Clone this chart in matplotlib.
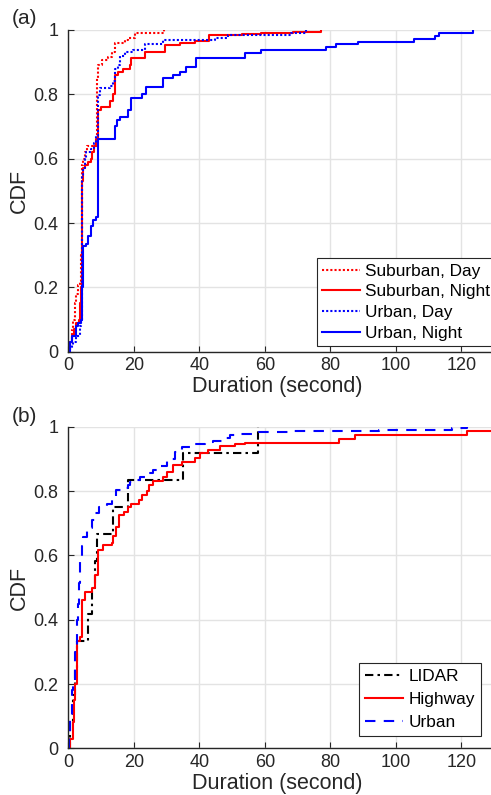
import numpy as np
import matplotlib
matplotlib.use('Agg')
import matplotlib.pyplot as plt
from matplotlib.ticker import FuncFormatter

plt.rcParams['font.family'] = ['Liberation Sans', 'DejaVu Sans']

# (a) duracion vs CDF, pasos
sub_day_x = [0, 0.5, 1.0, 1.5, 2.0, 2.5, 3.0, 3.6, 4.0, 4.1, 4.3, 4.6, 5.1, 5.6, 8.7, 8.9, 9.1,
             10.2, 12.2, 13.2, 14.2, 17.3, 18.3, 20.3, 29.3]
sub_day_y = [0, 0.03, 0.067, 0.10, 0.15, 0.18, 0.207, 0.22, 0.30, 0.45, 0.58, 0.60, 0.62, 0.64,
             0.75, 0.85, 0.891, 0.907, 0.917, 0.93, 0.959, 0.97, 0.975, 0.99, 1.0]

sub_night_x = [0, 0.3, 0.6, 1.2, 1.8, 2.5, 3.2, 3.6, 4.0, 4.2, 4.5, 5.0, 6.0, 6.8, 7.2, 8.0, 8.6,
               9.0, 9.1, 10.0, 12.7, 13.7, 14.2, 15.2, 16.7, 18.8, 19.3, 23.5, 29.5, 34.0, 38.6,
               43.0, 53.0, 59.0, 68.6, 77.3]
sub_night_y = [0, 0.02, 0.03, 0.05, 0.07, 0.09, 0.10, 0.15, 0.20, 0.53, 0.57, 0.58, 0.59, 0.60,
               0.62, 0.64, 0.66, 0.70, 0.75, 0.76, 0.78, 0.80, 0.86, 0.87, 0.88, 0.89, 0.912,
               0.933, 0.953, 0.96, 0.965, 0.984, 0.987, 0.99, 0.995, 1.0]

urb_day_x = [0, 0.5, 1.0, 1.5, 2.5, 3.5, 4.0, 4.1, 4.2, 4.5, 5.0, 5.5, 7.0, 8.0, 8.5, 9.0, 9.1,
             9.7, 12.7, 13.8, 14.2, 15.2, 15.8, 17.3, 19.8, 23.4, 28.9, 44.7, 48.7, 68.0, 72.7]
urb_day_y = [0, 0.01, 0.02, 0.03, 0.05, 0.08, 0.10, 0.20, 0.55, 0.57, 0.60, 0.62, 0.63, 0.65,
             0.67, 0.69, 0.798, 0.82, 0.825, 0.84, 0.88, 0.89, 0.92, 0.93, 0.938, 0.956, 0.969,
             0.975, 0.983, 0.99, 1.0]

urb_night_x = [0, 0.5, 1.0, 2.2, 3.0, 4.0, 4.3, 4.5, 5.5, 6.0, 6.8, 7.6, 8.4, 9.0, 9.1, 14.2,
               15.0, 15.8, 18.2, 19.1, 22.4, 23.8, 29.0, 32.0, 34.0, 35.9, 38.9, 53.9, 59.0,
               78.8, 81.8, 88.6, 105.7, 112.0, 113.1, 123.7]
urb_night_y = [0, 0.03, 0.05, 0.08, 0.09, 0.10, 0.20, 0.33, 0.335, 0.36, 0.39, 0.41, 0.42, 0.43,
               0.66, 0.70, 0.72, 0.73, 0.75, 0.79, 0.80, 0.824, 0.852, 0.86, 0.87, 0.886, 0.912,
               0.929, 0.938, 0.948, 0.955, 0.964, 0.972, 0.981, 0.99, 1.0]

# (b)
lidar_x = [0, 0.5, 1.5, 2.0, 2.6, 6.1, 7.1, 8.2, 8.7, 13.7, 18.3, 35.0, 57.9]
lidar_y = [0, 0.083, 0.167, 0.25, 0.333, 0.417, 0.5, 0.583, 0.667, 0.75, 0.833, 0.917, 1.0]

highway_x = [0, 0.5, 1.3, 1.6, 2.0, 2.6, 3.5, 4.1, 5.1, 7.1, 8.1, 9.1, 10.7, 13.2, 13.7, 14.7,
             15.5, 17.0, 18.3, 19.3, 21.7, 22.4, 23.9, 24.6, 26.0, 28.8, 30.0, 32.0, 34.6, 38.6,
             40.1, 42.7, 46.2, 50.8, 53.9, 82.8, 87.7, 121.8, 140.0]
highway_y = [0, 0.03, 0.083, 0.15, 0.20, 0.333, 0.345, 0.461, 0.487, 0.50, 0.539, 0.617, 0.632,
             0.64, 0.66, 0.689, 0.725, 0.735, 0.751, 0.76, 0.772, 0.787, 0.80, 0.818, 0.831,
             0.845, 0.86, 0.881, 0.891, 0.902, 0.917, 0.929, 0.94, 0.945, 0.951, 0.962, 0.974,
             0.987, 1.0]

urban_x = [0, 0.3, 0.5, 1.0, 1.3, 2.0, 2.7, 3.0, 3.3, 3.6, 4.1, 4.6, 5.8, 7.1, 8.1, 9.4, 11.7,
           13.2, 14.5, 16.8, 18.1, 18.8, 19.8, 21.9, 23.9, 26.0, 28.0, 30.0, 31.0, 32.5, 34.6,
           37.6, 41.7, 44.2, 46.8, 49.3, 51.3, 57.9, 67.6, 95.0, 117.2, 121.8]
urban_y = [0, 0.05, 0.10, 0.18, 0.20, 0.30, 0.40, 0.45, 0.513, 0.585, 0.629, 0.658, 0.684, 0.71,
           0.733, 0.751, 0.76, 0.782, 0.803, 0.811, 0.819, 0.829, 0.835, 0.843, 0.857, 0.866,
           0.878, 0.894, 0.90, 0.922, 0.936, 0.946, 0.952, 0.956, 0.964, 0.974, 0.979, 0.984,
           0.987, 0.99, 0.995, 1.0]

x_ticks = [0, 20, 40, 60, 80, 100, 120]
y_ticks = [0, 0.2, 0.4, 0.6, 0.8, 1.0]

DARK = '#262626'


def style_axes(ax):
    """Estilo tipo MATLAB: rejilla gris, ticks hacia dentro, sin caja."""
    ax.set_xlim(0, 130)
    ax.set_ylim(0, 1)
    ax.set_xticks(x_ticks)
    ax.set_yticks(y_ticks)
    ax.yaxis.set_major_formatter(FuncFormatter(lambda v, p: '%g' % v))
    ax.grid(True, color='#e3e3e3', linewidth=1.0)
    ax.set_axisbelow(True)
    for side in ['top', 'right']:
        ax.spines[side].set_visible(False)
    for side in ['left', 'bottom']:
        ax.spines[side].set_color(DARK)
        ax.spines[side].set_linewidth(1.0)
    ax.tick_params(direction='in', length=4, width=0.8, colors=DARK, labelsize=13)
    ax.tick_params(axis='x', pad=4)
    ax.tick_params(axis='y', pad=7)
    ax.set_xlabel('Duration (second)', fontsize=15.5, color=DARK)
    ax.set_ylabel('CDF', fontsize=15.5, color=DARK)
    ax.xaxis.set_label_coords(0.49, -0.109)
    ax.yaxis.set_label_coords(-0.116, 0.5)
    ax.xaxis.label.set_va('center')
    ax.yaxis.label.set_va('center')


fig = plt.figure(figsize=(4.91, 7.95), dpi=100)
ax1 = fig.add_axes([0.1391, 0.5576, 0.867, 0.4047])
ax2 = fig.add_axes([0.1391, 0.0587, 0.867, 0.4045])

lw = 1.5
dot = (0, (1, 1))
ax1.step(sub_day_x, sub_day_y, where='post', color='red', lw=lw, linestyle=dot, label='Suburban, Day')
ax1.step(sub_night_x, sub_night_y, where='post', color='red', lw=lw, label='Suburban, Night')
ax1.step(urb_day_x, urb_day_y, where='post', color='blue', lw=lw, linestyle=dot, label='Urban, Day')
ax1.step(urb_night_x, urb_night_y, where='post', color='blue', lw=lw, label='Urban, Night')
style_axes(ax1)
leg1 = ax1.legend(loc='lower right', bbox_to_anchor=(1.003, 0.018), fontsize=12.4,
                  fancybox=False, framealpha=1, edgecolor=DARK, handlelength=2.2,
                  handletextpad=0.3, borderpad=0.3, labelspacing=0.33, borderaxespad=0)
leg1.get_frame().set_linewidth(0.8)

ax2.step(lidar_x, lidar_y, where='post', color='black', lw=lw, linestyle=(0, (4, 2, 1.2, 2)), label='LIDAR')
ax2.step(highway_x, highway_y, where='post', color='red', lw=lw, label='Highway')
ax2.step(urban_x, urban_y, where='post', color='blue', lw=lw, linestyle=(0, (5, 4)), label='Urban')
style_axes(ax2)
leg2 = ax2.legend(loc='lower right', bbox_to_anchor=(0.969, 0.039), fontsize=12.4,
                  fancybox=False, framealpha=1, edgecolor=DARK, handlelength=2.2,
                  handletextpad=0.3, borderpad=0.35, labelspacing=0.45, borderaxespad=0)
leg2.get_frame().set_linewidth(0.8)

fig.text(12 / 491, 1 - 19 / 795, '(a)', fontsize=15, color=DARK, va='center', ha='left')
fig.text(12 / 491, 1 - 416 / 795, '(b)', fontsize=15, color=DARK, va='center', ha='left')

fig.savefig('out.png', dpi=100)
